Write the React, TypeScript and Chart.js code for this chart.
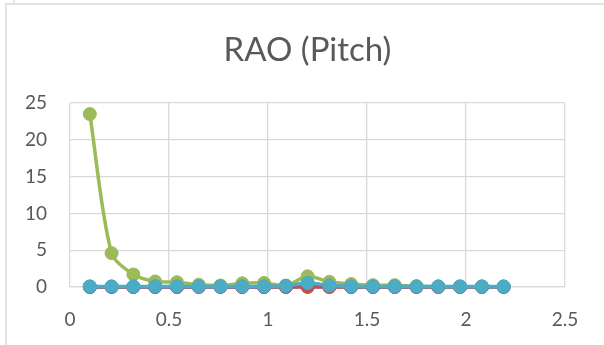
import React, { useEffect, useRef } from "react";
import { Chart, registerables } from "chart.js";

Chart.register(...registerables);

// Wave frequency (rad/s) at which the pitch response was evaluated
const frequencies = [0.1, 0.21, 0.32, 0.43, 0.54, 0.65, 0.76, 0.87, 0.98, 1.09, 1.2, 1.31, 1.42, 1.53, 1.64, 1.75, 1.86, 1.97, 2.08, 2.19];

// Pitch RAO per heading
const series1 = [0.02, 0.02, 0.02, 0.02, 0.02, 0.02, 0.02, 0.02, 0.02, 0.02, 0.03, 0.02, 0.02, 0.02, 0.02, 0.02, 0.02, 0.02, 0.02, 0.02];
const series2 = [0.0, 0.0, 0.0, 0.0, 0.0, 0.02, 0.02, 0.0, 0.0, 0.0, 0.02, 0.01, 0.0, 0.0, 0.0, 0.0, 0.0, 0.0, 0.0, 0.0];
const series3 = [23.5, 4.6, 1.7, 0.75, 0.65, 0.3, 0.2, 0.5, 0.55, 0.2, 1.45, 0.7, 0.4, 0.25, 0.25, 0.1, 0.05, 0.05, 0.05, 0.05];
const series4 = [0.05, 0.05, 0.05, 0.05, 0.05, 0.05, 0.05, 0.05, 0.05, 0.12, 0.5, 0.18, 0.05, 0.05, 0.05, 0.05, 0.05, 0.05, 0.05, 0.05];
const series5 = [0.08, 0.08, 0.08, 0.08, 0.08, 0.08, 0.08, 0.08, 0.08, 0.15, 0.55, 0.2, 0.08, 0.08, 0.08, 0.08, 0.08, 0.08, 0.08, 0.08];

const seriesValues = [series1, series2, series3, series4, series5];
const seriesColors = ["#4F81BD", "#C0504D", "#9BBB59", "#8064A2", "#4BACC6"];

const xTicks = { min: 0, max: 2.5, step: 0.5 };
const yTicks = { min: 0, max: 25, step: 5 };

const titleText = "RAO (Pitch)";

const GRID = "#D9D9D9";
const TEXT = "#595959";
const FONT = "Lato, 'Open Sans', sans-serif";

const framePlugin = {
  id: "frame",
  beforeDraw(chart: Chart) {
    const { ctx, width, height } = chart;
    ctx.save();
    ctx.fillStyle = "#ffffff";
    ctx.fillRect(0, 0, width, height);
    ctx.strokeStyle = GRID;
    ctx.lineWidth = 1.5;
    ctx.beginPath();
    ctx.moveTo(6, height);
    ctx.lineTo(6, 4);
    ctx.lineTo(width, 4);
    ctx.moveTo(14, 0);
    ctx.lineTo(14, 3);
    ctx.stroke();
    ctx.restore();
  },
};

const titlePlugin = {
  id: "chartTitle",
  afterDraw(chart: Chart) {
    const { ctx } = chart;
    ctx.save();
    ctx.fillStyle = TEXT;
    ctx.font = `33px ${FONT}`;
    ctx.textAlign = "center";
    ctx.textBaseline = "alphabetic";
    ctx.fillText(titleText, 307.5, 60.5);
    ctx.restore();
  },
};

export default function App() {
  const canvasRef = useRef<HTMLCanvasElement | null>(null);

  useEffect(() => {
    let chart: Chart | null = null;
    let cancelled = false;

    const build = () => {
      if (cancelled || !canvasRef.current) return;
      chart = new Chart(canvasRef.current, {
        type: "scatter",
        data: {
          datasets: seriesValues.map((values, i) => ({
            label: `Series${i + 1}`,
            data: values.map((y, j) => ({ x: frequencies[j], y })),
            showLine: true,
            clip: false,
            borderColor: seriesColors[i],
            backgroundColor: seriesColors[i],
            borderWidth: 3.5,
            pointRadius: 6.5,
            pointBorderWidth: 1,
            pointBorderColor: seriesColors[i],
            pointBackgroundColor: seriesColors[i],
            tension: 0.3,
            order: seriesValues.length - i,
          })),
        },
        options: {
          responsive: false,
          animation: false,
          events: [],
          layout: { padding: { top: 103, right: 39, bottom: 0, left: 0 } },
          plugins: {
            legend: { display: false },
            title: { display: false },
            tooltip: { enabled: false },
          },
          scales: {
            x: {
              type: "linear",
              min: xTicks.min,
              max: xTicks.max,
              afterFit: (s: any) => {
                s.height = 58;
              },
              ticks: {
                stepSize: xTicks.step,
                color: TEXT,
                font: { family: FONT, size: 19 },
                padding: 21,
                maxRotation: 0,
                callback: (v: any) => String(Number(v)),
              },
              grid: { color: GRID, lineWidth: 1.3, drawTicks: false },
              border: { color: GRID, width: 1.3 },
            },
            y: {
              type: "linear",
              min: yTicks.min,
              max: yTicks.max,
              afterFit: (s: any) => {
                s.width = 70;
              },
              ticks: {
                stepSize: yTicks.step,
                color: TEXT,
                font: { family: FONT, size: 19 },
                padding: 23,
                callback: (v: any) => String(Number(v)),
              },
              grid: { color: GRID, lineWidth: 1.3, drawTicks: false },
              border: { display: false },
            },
          },
        },
        plugins: [framePlugin, titlePlugin],
      });
    };

    if (document.fonts && document.fonts.load) {
      Promise.all([
        document.fonts.load(`33px Lato`),
        document.fonts.load(`19px Lato`),
      ])
        .catch(() => undefined)
        .then(build);
    } else {
      build();
    }

    return () => {
      cancelled = true;
      if (chart) chart.destroy();
    };
  }, []);

  return (
    <div style={{ position: "fixed", left: 0, top: 0, width: 604, height: 345, background: "#fff" }}>
      <canvas ref={canvasRef} width={604} height={345} style={{ display: "block" }} />
    </div>
  );
}
